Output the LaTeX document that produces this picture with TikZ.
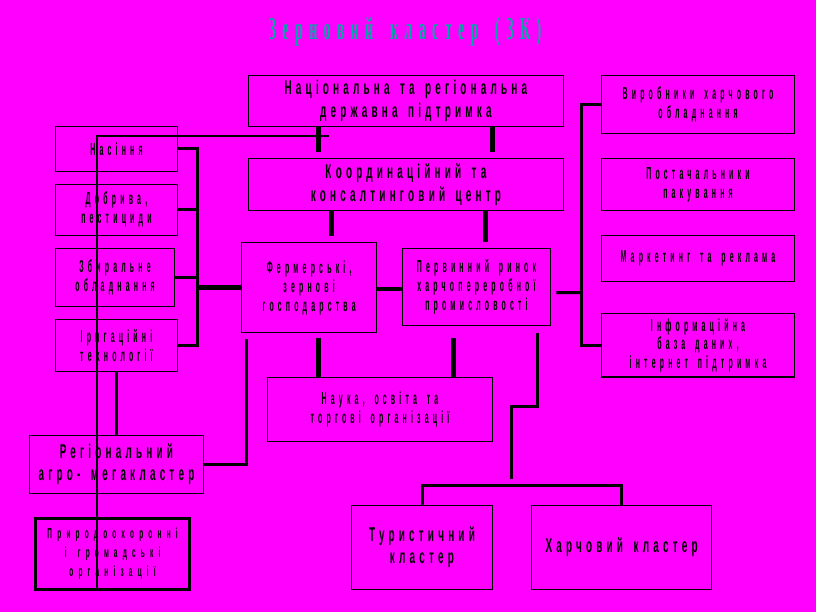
\documentclass[tikz,border=0pt]{standalone}
\usepackage{fontspec}
\setmainfont{Liberation Sans}
\newfontfamily\smf[FakeStretch=0.4,LetterSpace=24,WordSpace=1.6]{Liberation Sans}
\newfontfamily\bgf[FakeStretch=0.5,LetterSpace=21,WordSpace=1.5]{Liberation Sans}
\newfontfamily\tnf[FakeStretch=0.45,LetterSpace=36,WordSpace=1.6]{Liberation Sans}
\newfontfamily\titlefnt[FakeStretch=0.44,LetterSpace=20,WordSpace=1.7]{Liberation Serif}
\definecolor{bgmag}{RGB}{255,0,255}
\definecolor{tealc}{RGB}{0,168,168}
\begin{document}
\begin{tikzpicture}[x=1bp,y=-1bp,
  box/.style={draw=black,line width=1.3bp,rectangle,inner sep=0pt,align=center,
    font=\smf\bfseries\fontsize{17.5}{19}\selectfont},
  bigbox/.style={box,font=\bgf\bfseries\fontsize{20}{22.6}\selectfont},
  tinybox/.style={box,line width=3bp,font=\tnf\bfseries\fontsize{14.5}{18.8}\selectfont},
  stub/.style={line width=5bp},
  conn/.style={line width=4.3bp},
  bus/.style={line width=3bp,line join=miter},
  thinl/.style={line width=2bp,line join=miter}]
\useasboundingbox (0,0) rectangle (816,612);
\fill[bgmag] (0,0) rectangle (816,612);

\node[font=\titlefnt\bfseries\fontsize{32}{34}\selectfont,text=tealc] (title) at (405,31.7) {Зерновий кластер (ЗК)};

\node[bigbox,minimum width=315.2bp,minimum height=51.4bp] (nat) at (405.9,101) {Національна та регіональна\\державна підтримка};
\node[bigbox,minimum width=315.2bp,minimum height=52.2bp] (coord) at (405.9,184.4) {Координаційний та\\консалтинговий центр};

\node[box,minimum width=192.6bp,minimum height=57.6bp] (vyr) at (698,104.5) {Виробники харчового\\обладнання};
\node[box,minimum width=192.6bp,minimum height=51.6bp] (post) at (698,184.5) {Постачальники\\пакування};
\node[box,minimum width=192.6bp,minimum height=46bp] (mark) at (698,258.3) {Маркетинг та реклама};
\node[box,minimum width=192.6bp,minimum height=63.3bp] (inf) at (698,345.3) {Інформаційна\\база даних,\\інтернет підтримка};

\node[box,minimum width=121.9bp,minimum height=45bp] (nas) at (116.45,148.8) {Насіння};
\node[box,minimum width=121.9bp,minimum height=51bp] (dob) at (116.45,209.8) {Добрива,\\пестициди};
\node[box,minimum width=119.1bp,minimum height=58bp] (zbyr) at (115.05,277.3) {Збиральне\\обладнання};
\node[box,minimum width=121.9bp,minimum height=52.4bp] (iryg) at (116.45,345.5) {Іригаційні\\технології};

\node[box,minimum width=135.3bp,minimum height=90.2bp] (ferm) at (309.15,287.6) {Фермерські,\\зернові\\господарства};
\node[box,minimum width=148.5bp,minimum height=77.4bp] (perv) at (476.45,287) {Первинний ринок\\харчопереробної\\промисловості};
\node[box,minimum width=225.4bp,minimum height=64bp] (nauka) at (380,409.3) {Наука, освіта та\\торгові організації};

\node[bigbox,minimum width=174.1bp,minimum height=58bp] (reg) at (116.45,464.3) {Регіональний\\агро- мегакластер};
\node[tinybox,minimum width=154bp,minimum height=71bp] (pryr) at (112.6,553.8) {Природоохоронні\\і громадські\\організації};
\node[bigbox,minimum width=141.4bp,minimum height=84bp] (tur) at (422,547.3) {Туристичний\\кластер};
\node[bigbox,minimum width=179.8bp,minimum height=84bp] (harch) at (621.6,547.3) {Харчовий кластер};

% stubs between top boxes
\draw[stub] ([xshift=-87.4bp]nat.south) -- ++(0,25);
\draw[stub] ([xshift=86.1bp]nat.south) -- ++(0,25);
\draw[stub] ([xshift=-74.4bp]coord.south) -- ++(0,24.5);
\draw[stub] ([xshift=79.1bp]coord.south) -- ++(0,31.2);

% long thin line
\coordinate (thinE) at (329.3,136);
\coordinate (thinS) at (96.8,589.3);
\draw[thinl] (thinE) -| (thinS);

% left bus
\coordinate (lb) at (197.5,0);
\draw[bus] (nas.east) -- (nas.east -| lb) -- (iryg.east -| lb) -- (iryg.east);
\draw[bus] (dob.east) -- (dob.east -| lb);
\draw[bus] (zbyr.east) -- (zbyr.east -| lb);
\draw[conn] (ferm.west -| lb) -- (ferm.west);

% ferm -- perv
\draw[conn] ([yshift=-1.4bp]ferm.east) -- ([yshift=-1.4bp]ferm.east -| perv.west);

% right bus
\coordinate (rb) at (581,0);
\draw[bus] ([shift={(5,5.7)}]perv.east) -- ([yshift=-5.7bp]perv.east -| rb);
\draw[bus] (vyr.west) -- (vyr.west -| rb) -- (inf.west -| rb) -- (inf.west);

% stubs to nauka
\draw[stub] ([xshift=-61.4bp]nauka.north) -- ++(0,-38.7);
\draw[stub] ([xshift=73.3bp]nauka.north) -- ++(0,-38.7);

% line to regional
\draw[bus] ([shift={(5.8,5.6)}]ferm.south west) |- (reg.east);
\draw[bus] (iryg.south) -- (reg.north);

% line to clusters
\coordinate (j1) at (511.7,406);
\coordinate (busmid) at (511.7,485);
\draw[bus] ([shift={(-14,6.3)}]perv.south east) |- (j1) -- ([yshift=5.7bp]busmid);
\draw[bus] (tur.north) |- (busmid) -| (harch.north);
\end{tikzpicture}
\end{document}
